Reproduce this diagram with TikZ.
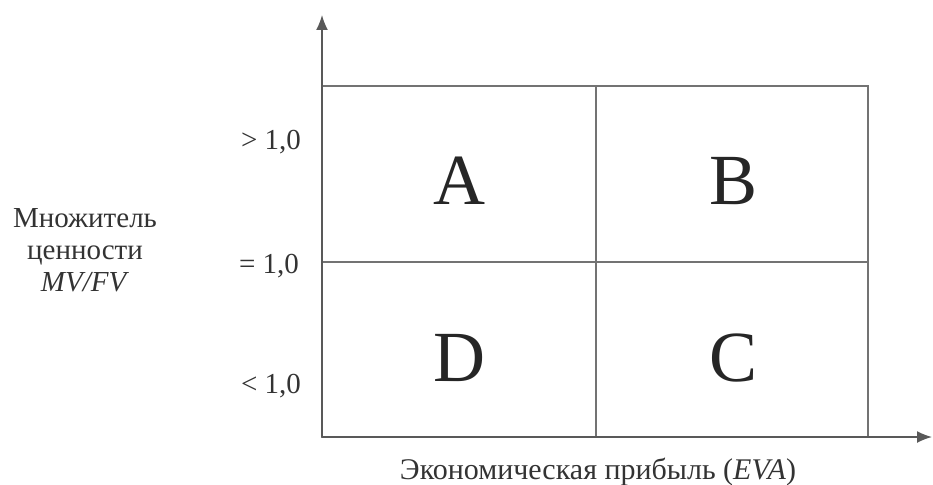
\documentclass[tikz,border=0pt]{standalone}
\usepackage{fontspec}
\setmainfont{Liberation Serif}
\usetikzlibrary{arrows.meta}
\begin{document}
\begin{tikzpicture}[x=1pt,y=-1pt,
  axis/.style={draw=black!65,line width=1.6pt,-{Latex[length=15pt,width=12pt]}},
  grid/.style={draw=black!55,line width=1.3pt},
  lbl/.style={font=\fontsize{29}{32}\selectfont,text=black!80,anchor=base,inner sep=0pt},
  big/.style={font=\fontsize{72}{72}\selectfont,text=black!85,anchor=base,inner sep=0pt}]
\useasboundingbox (0,0) rectangle (933,484);
\coordinate (O) at (322,437);
\coordinate (ytop) at (322,15);
\coordinate (xend) at (932,437);
\coordinate (tl) at (322,86);
\coordinate (br) at (868,437);
\coordinate (mt) at (596,86);
\coordinate (mb) at (596,437);
\coordinate (ml) at (322,262);
\coordinate (mr) at (868,262);
\draw[grid] (tl) rectangle (br);
\draw[grid] (mt) -- (mb);
\draw[grid] (ml) -- (mr);
\draw[axis] (O) -- (ytop);
\draw[axis] (O) -- (xend);
\node[big] (A) at (459,204) {A};
\node[big] (B) at (733,204) {B};
\node[big] (D) at (459,381) {D};
\node[big] (C) at (733,381) {C};
\node[lbl] (gt) at (271,149) {>~1,0};
\node[lbl] (eq) at (269,273) {=~1,0};
\node[lbl] (lt) at (271,393) {<~1,0};
\node[lbl,anchor=center,align=center] (ylab) at (85,250) {Множитель\\ценности\\\textit{MV/FV}};
\node[lbl,font=\fontsize{30}{32}\selectfont] (xlab) at (598,479) {Экономическая прибыль (\textit{EVA})};
\end{tikzpicture}
\end{document}
